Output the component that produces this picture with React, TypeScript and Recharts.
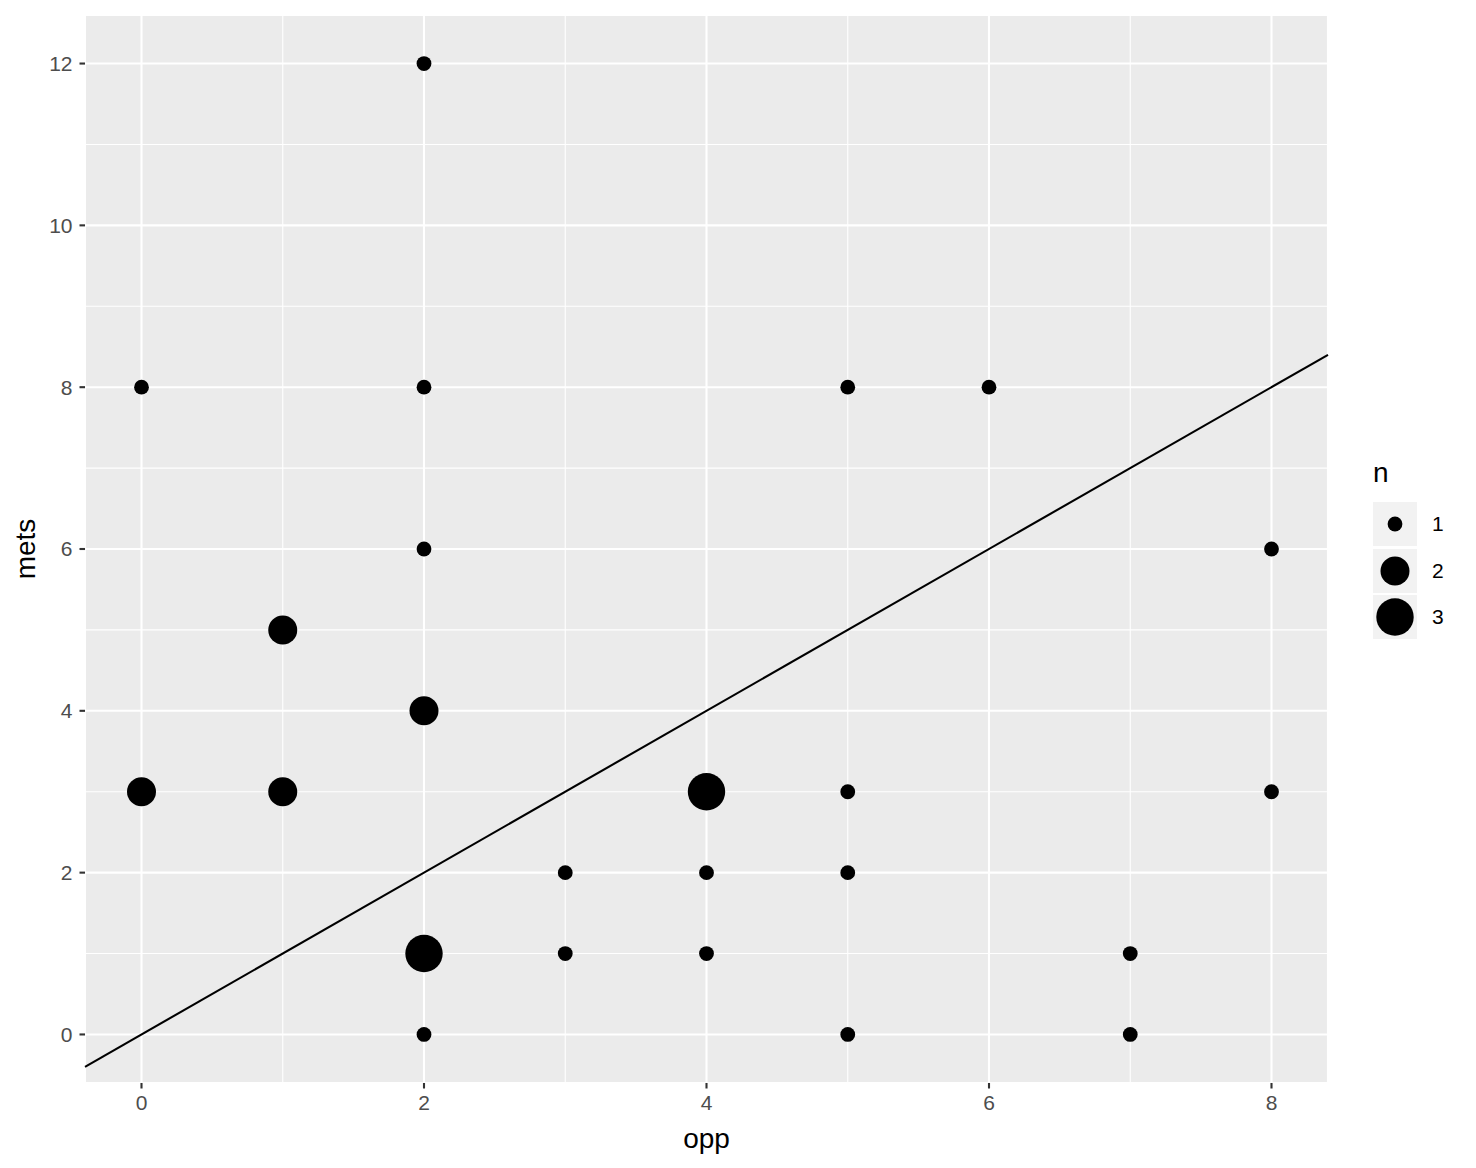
import { ComposedChart, Scatter, XAxis, YAxis, CartesianGrid, ReferenceLine } from 'recharts';

// observed (opp, mets) pairs and how many times each occurs
const opp = [0, 2, 2, 5, 6, 2, 8, 1, 2, 0, 1, 4, 5, 8, 3, 4, 5, 2, 3, 4, 7, 2, 5, 7];
const mets = [8, 12, 8, 8, 8, 6, 6, 5, 4, 3, 3, 3, 3, 3, 2, 2, 2, 1, 1, 1, 1, 0, 0, 0];
const counts = [1, 1, 1, 1, 1, 1, 1, 2, 2, 2, 2, 3, 1, 1, 1, 1, 1, 3, 1, 1, 1, 1, 1, 1];

const xDomain = [-0.4, 8.4];
const yDomain = [-0.6, 12.6];
const xMajor = [0, 2, 4, 6, 8];
const xMinor = [1, 3, 5, 7];
const yMajor = [0, 2, 4, 6, 8, 10, 12];
const yMinor = [1, 3, 5, 7, 9, 11];
const legendValues = [1, 2, 3];

const RADIUS: Record<number, number> = { 1: 7.4, 2: 14.5, 3: 18.7 };
const FONT = '"Liberation Sans", Arial, Helvetica, sans-serif';
const AXIS_FS = 21;
const TITLE_FS = 28;

const points = opp.map((x, i) => ({ x, y: mets[i], n: counts[i] }));

const tickStyle = { fill: '#4D4D4D', fontSize: AXIS_FS, fontFamily: FONT };
const tickLine = { stroke: '#333333', strokeWidth: 2.1 };

function Dot(props: any) {
  const { cx, cy, payload } = props;
  return <circle cx={cx} cy={cy} r={RADIUS[payload.n]} fill="#000" />;
}

function SizeLegend() {
  return (
    <div style={{ position: 'absolute', left: 1373, top: 458, fontFamily: FONT }}>
      <div style={{ fontSize: TITLE_FS, color: '#000', lineHeight: '30px', marginBottom: 14 }}>n</div>
      {legendValues.map((v) => (
        <div key={v} style={{ display: 'flex', alignItems: 'center', height: 44, marginBottom: 2.5 }}>
          <svg width={44} height={44} style={{ display: 'block' }}>
            <rect x={0} y={0} width={44} height={44} fill="#F2F2F2" />
            <circle cx={22} cy={22} r={RADIUS[v]} fill="#000" />
          </svg>
          <span style={{ fontSize: AXIS_FS, color: '#000', marginLeft: 15 }}>{v}</span>
        </div>
      ))}
    </div>
  );
}

export default function App() {
  return (
    <div style={{ position: 'absolute', left: 0, top: 0, width: 1476, height: 1168, background: '#fff' }}>
      <ComposedChart width={1476} height={1168} data={points} margin={{ top: 15, right: 148, bottom: 0, left: 0 }}>
        <XAxis xAxisId="minor" type="number" dataKey="x" domain={xDomain} ticks={xMinor} hide allowDataOverflow />
        <YAxis yAxisId="minor" type="number" dataKey="y" domain={yDomain} ticks={yMinor} hide allowDataOverflow />
        <CartesianGrid xAxisId="minor" yAxisId="minor" fill="#EBEBEB" stroke="#FFFFFF" strokeWidth={1.1} />
        <CartesianGrid stroke="#FFFFFF" strokeWidth={2.1} />
        <XAxis
          type="number"
          dataKey="x"
          domain={xDomain}
          ticks={xMajor}
          interval={0}
          allowDataOverflow
          height={85}
          axisLine={false}
          tickSize={5.5}
          tickMargin={7}
          tick={tickStyle}
          tickLine={tickLine}
          label={{
            content: (p: any) => (
              <text x={p.viewBox.x + p.viewBox.width / 2} y={1148} textAnchor="middle" fontSize={TITLE_FS} fontFamily={FONT} fill="#000">
                opp
              </text>
            ),
          }}
        />
        <YAxis
          type="number"
          dataKey="y"
          domain={yDomain}
          ticks={yMajor}
          interval={0}
          allowDataOverflow
          width={85}
          axisLine={false}
          tickSize={5.5}
          tickMargin={7}
          tick={tickStyle}
          tickLine={tickLine}
          label={{
            content: (p: any) => {
              const cy = p.viewBox.y + p.viewBox.height / 2;
              return (
                <text x={35} y={cy} transform={`rotate(-90, 35, ${cy})`} textAnchor="middle" fontSize={TITLE_FS} fontFamily={FONT} fill="#000">
                  mets
                </text>
              );
            },
          }}
        />
        <ReferenceLine
          segment={[{ x: xDomain[0], y: xDomain[0] }, { x: xDomain[1], y: xDomain[1] }]}
          stroke="#000"
          strokeWidth={2.1}
          ifOverflow="visible"
        />
        <Scatter dataKey="y" fill="#000" shape={Dot} isAnimationActive={false} />
      </ComposedChart>
      <SizeLegend />
    </div>
  );
}
